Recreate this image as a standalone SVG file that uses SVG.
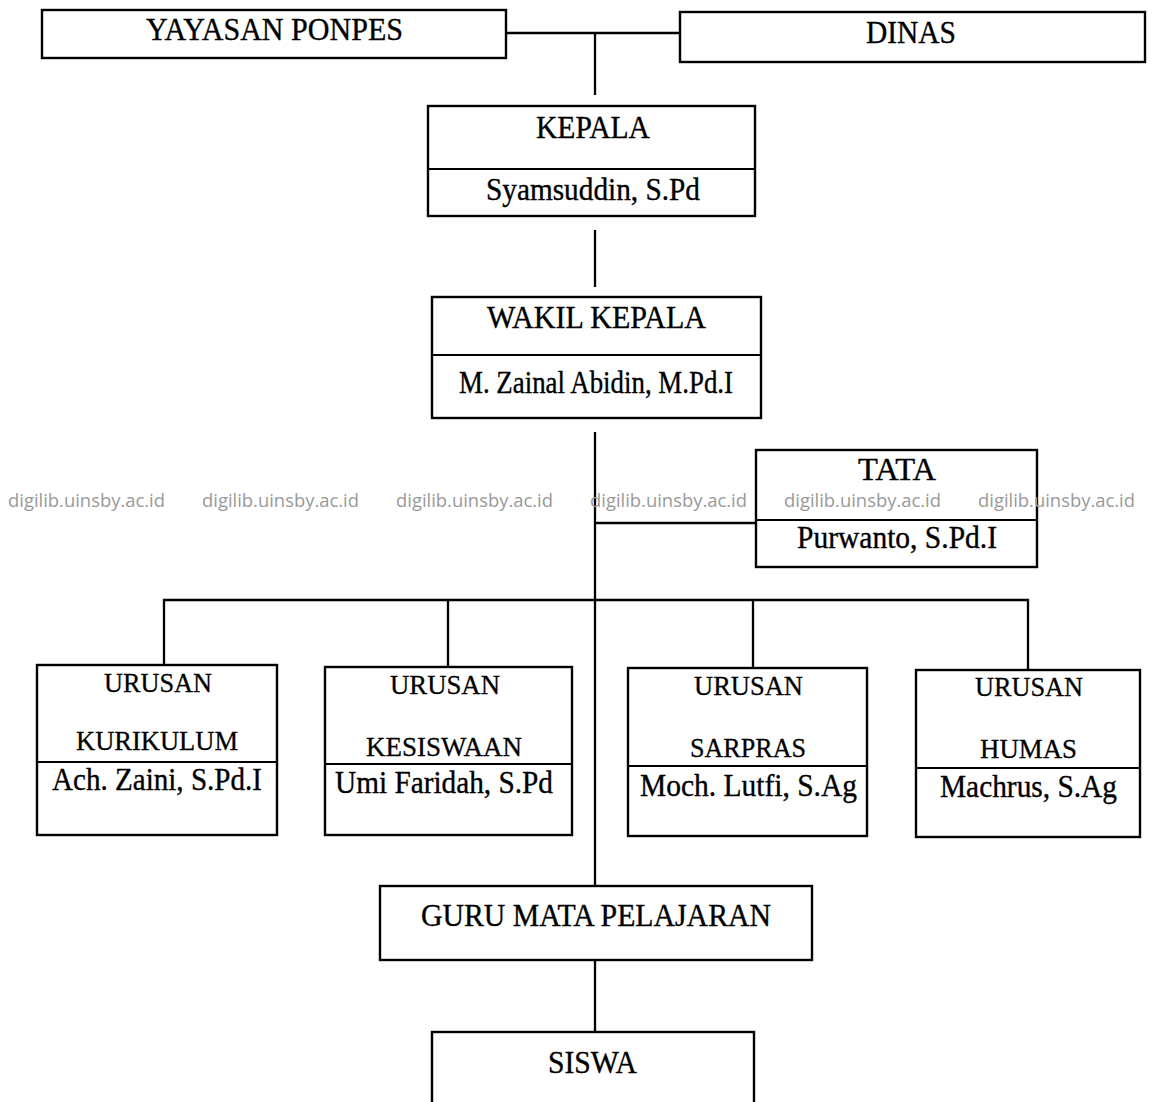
<svg xmlns="http://www.w3.org/2000/svg" width="1172" height="1102" viewBox="0 0 1172 1102">
<style>
.box{fill:#fff;stroke:#000;stroke-width:2.4}
.div{stroke:#000;stroke-width:2.2}
.t{font-family:"Liberation Serif","Times New Roman",serif;font-size:30.5px;fill:#000;stroke:#000;stroke-width:0.35;text-anchor:middle}
.s{font-family:"Liberation Serif","Times New Roman",serif;font-size:27.5px;fill:#000;stroke:#000;stroke-width:0.3;text-anchor:middle}
.c{fill:none;stroke:#000;stroke-width:2.3}
.wm{font-family:"Open Sans","Noto Sans",sans-serif;font-size:19px;fill:#999}
</style>
<rect width="1172" height="1102" fill="#fff"/>
<g id="connectors">
<line class="c" x1="506" y1="33" x2="680" y2="33"/>
<line class="c" x1="595" y1="33" x2="595" y2="95"/>
<line class="c" x1="595" y1="230" x2="595" y2="287"/>
<line class="c" x1="595" y1="432" x2="595" y2="886"/>
<line class="c" x1="595" y1="523" x2="756" y2="523"/>
<polyline class="c" points="164,668 164,600 1028,600 1028,671"/>
<line class="c" x1="448" y1="600" x2="448" y2="668"/>
<line class="c" x1="753" y1="600" x2="753" y2="669"/>
<line class="c" x1="595" y1="960" x2="595" y2="1032"/>
</g>
<g id="yayasan">
<rect class="box" x="42" y="10" width="464" height="48"/>
<text class="t" x="274.5" y="40" textLength="257" lengthAdjust="spacingAndGlyphs">YAYASAN PONPES</text>
</g>
<g id="dinas">
<rect class="box" x="680" y="12" width="465" height="50"/>
<text class="t" x="911" y="43" textLength="90" lengthAdjust="spacingAndGlyphs">DINAS</text>
</g>
<g id="kepala">
<rect class="box" x="428" y="106" width="327" height="110"/>
<line class="div" x1="428" y1="169" x2="755" y2="169"/>
<text class="t" x="593" y="138" textLength="114" lengthAdjust="spacingAndGlyphs">KEPALA</text>
<text class="t" x="593" y="200" textLength="214" lengthAdjust="spacingAndGlyphs">Syamsuddin, S.Pd</text>
</g>
<g id="wakil">
<rect class="box" x="432" y="297" width="329" height="121"/>
<line class="div" x1="432" y1="355" x2="761" y2="355"/>
<text class="t" x="596.5" y="328" textLength="219" lengthAdjust="spacingAndGlyphs">WAKIL KEPALA</text>
<text class="t" x="596" y="393" textLength="274" lengthAdjust="spacingAndGlyphs">M. Zainal Abidin, M.Pd.I</text>
</g>
<g id="tata">
<rect class="box" x="756" y="450" width="281" height="117"/>
<line class="div" x1="756" y1="520" x2="1037" y2="520"/>
<text class="t" x="897" y="480" textLength="78" lengthAdjust="spacingAndGlyphs">TATA</text>
<text class="t" x="897" y="548" textLength="200" lengthAdjust="spacingAndGlyphs">Purwanto, S.Pd.I</text>
</g>
<g id="kurikulum">
<rect class="box" x="37" y="665" width="240" height="170"/>
<line class="div" x1="37" y1="762" x2="277" y2="762"/>
<text class="s" x="158" y="692" textLength="108" lengthAdjust="spacingAndGlyphs">URUSAN</text>
<text class="s" x="157" y="750" textLength="162" lengthAdjust="spacingAndGlyphs">KURIKULUM</text>
<text class="t" x="157" y="790" textLength="210" lengthAdjust="spacingAndGlyphs">Ach. Zaini, S.Pd.I</text>
</g>
<g id="kesiswaan">
<rect class="box" x="325" y="667" width="247" height="168"/>
<line class="div" x1="325" y1="764" x2="572" y2="764"/>
<text class="s" x="445" y="694" textLength="110" lengthAdjust="spacingAndGlyphs">URUSAN</text>
<text class="s" x="444" y="756" textLength="156" lengthAdjust="spacingAndGlyphs">KESISWAAN</text>
<text class="t" x="444" y="793" textLength="218" lengthAdjust="spacingAndGlyphs">Umi Faridah, S.Pd</text>
</g>
<g id="sarpras">
<rect class="box" x="628" y="668" width="239" height="168"/>
<line class="div" x1="628" y1="766" x2="867" y2="766"/>
<text class="s" x="748.5" y="695" textLength="109" lengthAdjust="spacingAndGlyphs">URUSAN</text>
<text class="s" x="748" y="757" textLength="116" lengthAdjust="spacingAndGlyphs">SARPRAS</text>
<text class="t" x="748.5" y="796" textLength="217" lengthAdjust="spacingAndGlyphs">Moch. Lutfi, S.Ag</text>
</g>
<g id="humas">
<rect class="box" x="916" y="670" width="224" height="167"/>
<line class="div" x1="916" y1="768" x2="1140" y2="768"/>
<text class="s" x="1029" y="696" textLength="108" lengthAdjust="spacingAndGlyphs">URUSAN</text>
<text class="s" x="1028.5" y="758" textLength="97" lengthAdjust="spacingAndGlyphs">HUMAS</text>
<text class="t" x="1028.5" y="797" textLength="177" lengthAdjust="spacingAndGlyphs">Machrus, S.Ag</text>
</g>
<g id="guru">
<rect class="box" x="380" y="886" width="432" height="74"/>
<text class="t" x="596" y="926" textLength="350" lengthAdjust="spacingAndGlyphs">GURU MATA PELAJARAN</text>
</g>
<g id="siswa">
<rect class="box" x="432" y="1032" width="322" height="80"/>
<text class="t" x="592.5" y="1073" textLength="89" lengthAdjust="spacingAndGlyphs">SISWA</text>
</g>
<g id="watermark">
<text class="wm" x="8" y="507" textLength="157" lengthAdjust="spacingAndGlyphs">digilib.uinsby.ac.id</text>
<text class="wm" x="202" y="507" textLength="157" lengthAdjust="spacingAndGlyphs">digilib.uinsby.ac.id</text>
<text class="wm" x="396" y="507" textLength="157" lengthAdjust="spacingAndGlyphs">digilib.uinsby.ac.id</text>
<text class="wm" x="590" y="507" textLength="157" lengthAdjust="spacingAndGlyphs">digilib.uinsby.ac.id</text>
<text class="wm" x="784" y="507" textLength="157" lengthAdjust="spacingAndGlyphs">digilib.uinsby.ac.id</text>
<text class="wm" x="978" y="507" textLength="157" lengthAdjust="spacingAndGlyphs">digilib.uinsby.ac.id</text>
</g>
</svg>
